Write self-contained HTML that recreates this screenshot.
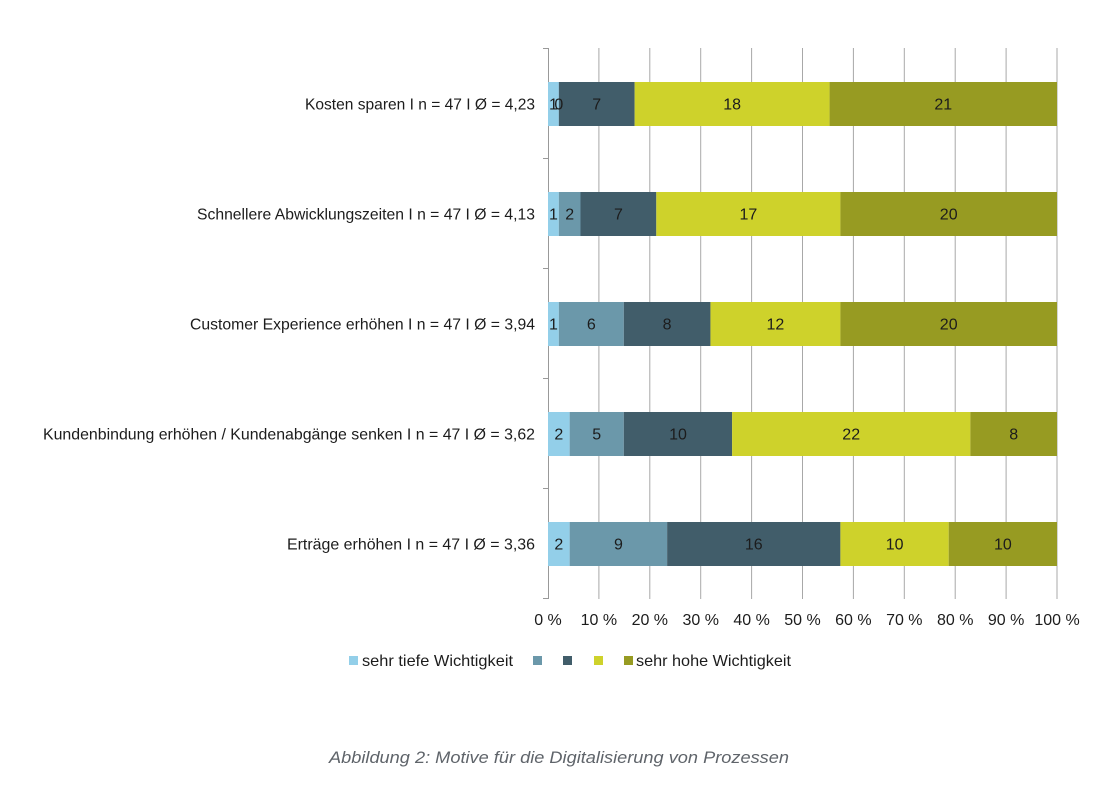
<!DOCTYPE html>
<html>
<head>
<meta charset="utf-8">
<style>
html,body{margin:0;padding:0;background:#fff;}
svg{display:block;}
text{font-family:"Liberation Sans",sans-serif;}
</style>
</head>
<body>
<svg width="1115" height="803" viewBox="0 0 1115 803" xmlns="http://www.w3.org/2000/svg">
<rect width="1115" height="803" fill="#fff"/>
<!-- gridlines -->
<g stroke="#a8a8a8" stroke-width="1">
<line x1="598.9" y1="48" x2="598.9" y2="599"/>
<line x1="649.8" y1="48" x2="649.8" y2="599"/>
<line x1="700.7" y1="48" x2="700.7" y2="599"/>
<line x1="751.6" y1="48" x2="751.6" y2="599"/>
<line x1="802.5" y1="48" x2="802.5" y2="599"/>
<line x1="853.4" y1="48" x2="853.4" y2="599"/>
<line x1="904.3" y1="48" x2="904.3" y2="599"/>
<line x1="955.2" y1="48" x2="955.2" y2="599"/>
<line x1="1006.1" y1="48" x2="1006.1" y2="599"/>
<line x1="1057" y1="48" x2="1057" y2="599"/>
</g>
<!-- left axis -->
<g stroke="#999" stroke-width="1">
<line x1="548.5" y1="48" x2="548.5" y2="599"/>
<line x1="543" y1="48.5" x2="548.5" y2="48.5"/>
<line x1="543" y1="158.5" x2="548.5" y2="158.5"/>
<line x1="543" y1="268.5" x2="548.5" y2="268.5"/>
<line x1="543" y1="378.5" x2="548.5" y2="378.5"/>
<line x1="543" y1="488.5" x2="548.5" y2="488.5"/>
<line x1="543" y1="598.5" x2="548.5" y2="598.5"/>
</g>
<!-- bars -->
<g>
<rect x="548" y="82" width="10.83" height="44" fill="#93cfe9"/>
<rect x="558.83" y="82" width="75.81" height="44" fill="#415d6a"/>
<rect x="634.64" y="82" width="194.93" height="44" fill="#ced22b"/>
<rect x="829.57" y="82" width="227.43" height="44" fill="#979b22"/>
<rect x="548" y="192" width="10.83" height="44" fill="#93cfe9"/>
<rect x="558.83" y="192" width="21.66" height="44" fill="#6b98aa"/>
<rect x="580.49" y="192" width="75.81" height="44" fill="#415d6a"/>
<rect x="656.30" y="192" width="184.1" height="44" fill="#ced22b"/>
<rect x="840.40" y="192" width="216.6" height="44" fill="#979b22"/>
<rect x="548" y="302" width="10.83" height="44" fill="#93cfe9"/>
<rect x="558.83" y="302" width="64.98" height="44" fill="#6b98aa"/>
<rect x="623.81" y="302" width="86.64" height="44" fill="#415d6a"/>
<rect x="710.45" y="302" width="129.95" height="44" fill="#ced22b"/>
<rect x="840.40" y="302" width="216.6" height="44" fill="#979b22"/>
<rect x="548" y="412" width="21.66" height="44" fill="#93cfe9"/>
<rect x="569.66" y="412" width="54.15" height="44" fill="#6b98aa"/>
<rect x="623.81" y="412" width="108.3" height="44" fill="#415d6a"/>
<rect x="732.11" y="412" width="238.25" height="44" fill="#ced22b"/>
<rect x="970.36" y="412" width="86.64" height="44" fill="#979b22"/>
<rect x="548" y="522" width="21.66" height="44" fill="#93cfe9"/>
<rect x="569.66" y="522" width="97.47" height="44" fill="#6b98aa"/>
<rect x="667.13" y="522" width="173.27" height="44" fill="#415d6a"/>
<rect x="840.40" y="522" width="108.3" height="44" fill="#ced22b"/>
<rect x="948.70" y="522" width="108.3" height="44" fill="#979b22"/>
</g>
<!-- value labels -->
<g font-size="16" fill="#1c1c1c" text-anchor="middle">
<text x="553.4" y="109.5">1</text><text x="558.8" y="109.5">0</text><text x="596.7" y="109.5">7</text><text x="732.1" y="109.5">18</text><text x="943.3" y="109.5">21</text>
<text x="553.4" y="219.5">1</text><text x="569.7" y="219.5">2</text><text x="618.4" y="219.5">7</text><text x="748.4" y="219.5">17</text><text x="948.7" y="219.5">20</text>
<text x="553.4" y="329.5">1</text><text x="591.3" y="329.5">6</text><text x="667.1" y="329.5">8</text><text x="775.4" y="329.5">12</text><text x="948.7" y="329.5">20</text>
<text x="558.8" y="439.5">2</text><text x="596.7" y="439.5">5</text><text x="678.0" y="439.5">10</text><text x="851.2" y="439.5">22</text><text x="1013.7" y="439.5">8</text>
<text x="558.8" y="549.5">2</text><text x="618.4" y="549.5">9</text><text x="753.8" y="549.5">16</text><text x="894.6" y="549.5">10</text><text x="1002.9" y="549.5">10</text>
</g>
<!-- category labels -->
<g font-size="16" fill="#1c1c1c" text-anchor="end">
<text x="535" y="109.5" textLength="230" lengthAdjust="spacingAndGlyphs">Kosten sparen I n = 47 I Ø = 4,23</text>
<text x="535" y="219.5" textLength="338" lengthAdjust="spacingAndGlyphs">Schnellere Abwicklungszeiten I n = 47 I Ø = 4,13</text>
<text x="535" y="329.5" textLength="345" lengthAdjust="spacingAndGlyphs">Customer Experience erhöhen I n = 47 I Ø = 3,94</text>
<text x="535" y="439.5" textLength="492" lengthAdjust="spacingAndGlyphs">Kundenbindung erhöhen / Kundenabgänge senken I n = 47 I Ø = 3,62</text>
<text x="535" y="549.5" textLength="248" lengthAdjust="spacingAndGlyphs">Erträge erhöhen I n = 47 I Ø = 3,36</text>
</g>
<!-- tick labels -->
<g font-size="16" fill="#1c1c1c" text-anchor="middle">
<text x="548" y="625">0 %</text>
<text x="598.9" y="625">10 %</text>
<text x="649.8" y="625">20 %</text>
<text x="700.7" y="625">30 %</text>
<text x="751.6" y="625">40 %</text>
<text x="802.5" y="625">50 %</text>
<text x="853.4" y="625">60 %</text>
<text x="904.3" y="625">70 %</text>
<text x="955.2" y="625">80 %</text>
<text x="1006.1" y="625">90 %</text>
<text x="1057" y="625">100 %</text>
</g>
<!-- legend -->
<rect x="349" y="656" width="9" height="9" fill="#93cfe9"/>
<text x="362" y="666" font-size="16" fill="#1c1c1c" textLength="151" lengthAdjust="spacingAndGlyphs">sehr tiefe Wichtigkeit</text>
<rect x="533" y="656" width="9" height="9" fill="#6b98aa"/>
<rect x="563" y="656" width="9" height="9" fill="#415d6a"/>
<rect x="594" y="656" width="9" height="9" fill="#ced22b"/>
<rect x="624" y="656" width="9" height="9" fill="#979b22"/>
<text x="636" y="666" font-size="16" fill="#1c1c1c" textLength="155" lengthAdjust="spacingAndGlyphs">sehr hohe Wichtigkeit</text>
<!-- caption -->
<text x="329" y="763" font-size="16.5" font-style="italic" fill="#5f646a" textLength="460" lengthAdjust="spacingAndGlyphs">Abbildung 2: Motive für die Digitalisierung von Prozessen</text>
</svg>
</body>
</html>
